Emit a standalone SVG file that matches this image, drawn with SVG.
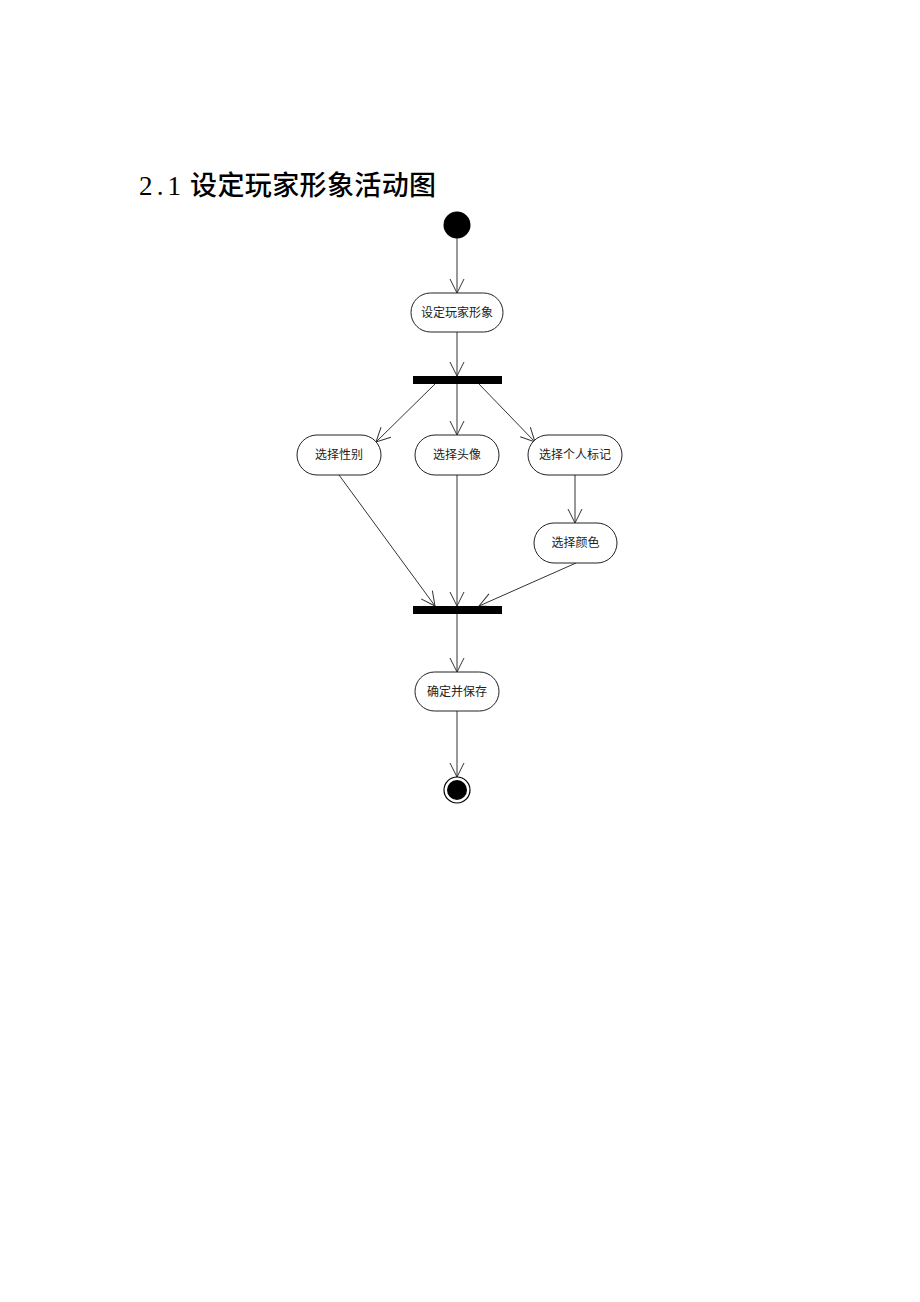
<svg xmlns="http://www.w3.org/2000/svg" width="920" height="1302" viewBox="0 0 920 1302">
<style>
.node rect{fill:#fff;stroke:#222;stroke-width:1}
.node text{font-family:"Noto Sans CJK SC","Noto Sans",sans-serif;font-size:12px;fill:#222;text-anchor:middle}
.bar{fill:#000}
.edge{stroke:#333;stroke-width:1;fill:none}
.title{font-family:"Noto Sans CJK SC","Noto Sans",sans-serif;font-size:27px;fill:#000;font-weight:500}
.num{font-family:"Liberation Serif","Noto Sans CJK SC",serif}
</style>
<defs>
<marker id="arr" viewBox="-15 -8 16 16" refX="0" refY="0" markerWidth="16" markerHeight="16" markerUnits="userSpaceOnUse" orient="auto">
<path d="M-14,-7 L0,0 L-14,7" fill="none" stroke="#333" stroke-width="1"/>
</marker>
</defs>
<rect width="920" height="1302" fill="#fff"/>
<text class="title" x="139" y="195"><tspan class="num" x="139" textLength="42" lengthAdjust="spacing">2.1</tspan><tspan x="190" textLength="246" lengthAdjust="spacing">设定玩家形象活动图</tspan></text>

<g id="connectors">
<line class="edge" x1="457" y1="238" x2="457" y2="293" marker-end="url(#arr)"/>
<line class="edge" x1="457" y1="332" x2="457" y2="376" marker-end="url(#arr)"/>
<line class="edge" x1="435" y1="384" x2="376" y2="442" marker-end="url(#arr)"/>
<line class="edge" x1="457" y1="384" x2="457" y2="435" marker-end="url(#arr)"/>
<line class="edge" x1="479" y1="384" x2="535" y2="442" marker-end="url(#arr)"/>
<line class="edge" x1="575" y1="475" x2="575" y2="523" marker-end="url(#arr)"/>
<line class="edge" x1="339" y1="475" x2="435" y2="606" marker-end="url(#arr)"/>
<line class="edge" x1="457" y1="475" x2="457" y2="606" marker-end="url(#arr)"/>
<line class="edge" x1="576" y1="563" x2="479" y2="606" marker-end="url(#arr)"/>
<line class="edge" x1="457" y1="614" x2="457" y2="672" marker-end="url(#arr)"/>
<line class="edge" x1="457" y1="711" x2="457" y2="777" marker-end="url(#arr)"/>
</g>

<g id="start"><circle cx="457" cy="225" r="13.5" fill="#000"/></g>
<g id="n1" class="node"><rect x="411" y="293" width="92" height="39" rx="19.5"/><text x="457" y="317">设定玩家形象</text></g>
<g id="fork"><rect class="bar" x="413" y="376" width="89" height="8"/></g>
<g id="n2" class="node"><rect x="297" y="435" width="84" height="40" rx="20"/><text x="339" y="459">选择性别</text></g>
<g id="n3" class="node"><rect x="415" y="435" width="84" height="40" rx="20"/><text x="457" y="459">选择头像</text></g>
<g id="n4" class="node"><rect x="528" y="435" width="94" height="40" rx="20"/><text x="575" y="459">选择个人标记</text></g>
<g id="n5" class="node"><rect x="534" y="523" width="83" height="40" rx="20"/><text x="575.5" y="547">选择颜色</text></g>
<g id="join"><rect class="bar" x="413" y="606" width="89" height="8"/></g>
<g id="n6" class="node"><rect x="415" y="672" width="84" height="39" rx="19.5"/><text x="457" y="696">确定并保存</text></g>
<g id="end"><circle cx="457" cy="790" r="13" fill="#fff" stroke="#000" stroke-width="1.2"/><circle cx="457" cy="790" r="10" fill="#000"/></g>
</svg>
